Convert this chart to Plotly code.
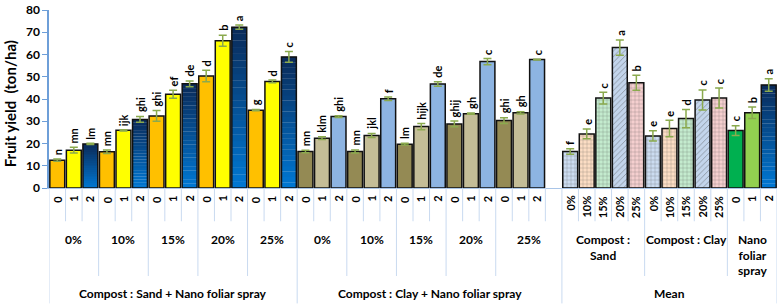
import plotly.graph_objects as go

# ---------------- data ----------------
spray_levels = ["0", "1", "2"]
compost_levels = ["0%", "10%", "15%", "20%", "25%"]

sand_yield = [12.5, 17.0, 19.8, 16.3, 25.9, 30.8, 32.4, 42.1, 46.8, 50.3, 66.2, 72.3, 35.0, 47.9, 58.9]
sand_err = [0.5, 1.3, 0.3, 0.8, 0.3, 1.3, 2.4, 1.8, 1.3, 2.6, 2.5, 1.0, 0.3, 0.6, 2.4]
sand_letters = ["n", "mn", "lm", "mn", "ijk", "ghi", "ghi", "ef", "de", "d", "b", "a", "g", "d", "c"]

clay_yield = [16.4, 22.4, 32.1, 16.4, 23.6, 40.1, 19.7, 27.6, 46.7, 28.8, 33.4, 56.8, 30.3, 33.8, 57.7]
clay_err = [0.6, 0.6, 0.4, 0.7, 0.9, 0.8, 0.4, 1.4, 1.0, 1.3, 0.3, 1.4, 1.3, 0.5, 0.2]
clay_letters = ["mn", "klm", "ghi", "mn", "jkl", "f", "lm", "hijk", "de", "ghij", "gh", "c", "ghi", "gh", "c"]

mean_sand = [16.4, 24.3, 40.4, 63.1, 47.3]
mean_sand_err = [1.2, 2.2, 2.6, 3.4, 3.4]
mean_sand_letters = ["f", "e", "c", "a", "b"]

mean_clay = [23.4, 26.7, 31.2, 39.6, 40.4]
mean_clay_err = [2.3, 3.7, 4.1, 4.5, 4.5]
mean_clay_letters = ["e", "e", "d", "c", "c"]

mean_nano = [25.8, 33.8, 46.3]
mean_nano_err = [2.2, 2.6, 2.8]
mean_nano_letters = ["c", "b", "a"]

y_ticks = [0, 10, 20, 30, 40, 50, 60, 70, 80]

G_SAND = "Compost : Sand + Nano foliar spray"
G_CLAY = "Compost : Clay + Nano foliar spray"
G_MEAN = "Mean"

# ---------------- categories (3 levels) ----------------
cats = []  # (level3, level2, level1)
for c in compost_levels:
    for s in spray_levels:
        cats.append((G_SAND, c, s))
for c in compost_levels:
    for s in spray_levels:
        cats.append((G_CLAY, c, s))
cats.append((G_CLAY, "25%", ""))  # empty spacer slot
for c in compost_levels:
    cats.append((G_MEAN, "Compost :<br>Sand", c))
for c in compost_levels:
    cats.append((G_MEAN, "Compost : Clay", c))
for s in spray_levels:
    cats.append((G_MEAN, "Nano<br>foliar<br>spray", s))

values = sand_yield + clay_yield + [None] + mean_sand + mean_clay + mean_nano
errors = sand_err + clay_err + [None] + mean_sand_err + mean_clay_err + mean_nano_err
letters = sand_letters + clay_letters + [""] + mean_sand_letters + mean_clay_letters + mean_nano_letters

# ---------------- styles ----------------
GRAD = "grad"
sand_cols = ["#FFC000", "#FFFF00", GRAD]
clay_cols = ["#948A54", "#C4BD97", "#8DB4E2"]
mean_bg = ["#CCDCF1", "#FCDDC4", "#C4EBCE", "#C3D5EC", "#F5CFCF"]
mean_fg = ["#A4BFE3", "#F5BF98", "#52BE74", "#ABC2E2", "#E9A3A3"]
mean_shape = ["+", "+", "+", "/", "+"]
nano_cols = ["#00B050", "#92D050", GRAD]
GRAD_BOTTOM = (0, 120, 212)
GRAD_TOP = (10, 42, 88)
N_GRAD = 24

xs, ys, es, colors, fgs, shapes = [], [], [], [], [], []
gx, gy = [], []
for i, (l3, l2, l1) in enumerate(cats):
    v = values[i]
    if v is None:
        continue
    xs.append(i)
    ys.append(v)
    es.append(errors[i])
    if l3 == G_SAND:
        col = sand_cols[spray_levels.index(l1)]; fg = "#000"; sh = ""
    elif l3 == G_CLAY:
        col = clay_cols[spray_levels.index(l1)]; fg = "#000"; sh = ""
    elif l2.startswith("Nano"):
        col = nano_cols[spray_levels.index(l1)]; fg = "#000"; sh = ""
    else:
        k = compost_levels.index(l1)
        col = mean_bg[k]; fg = mean_fg[k]; sh = mean_shape[k]
    if col == GRAD:
        gx.append(i); gy.append(v)
        col = "rgba(0,0,0,0)"
    colors.append(col); fgs.append(fg); shapes.append(sh)

FONT = "Lato"
fig = go.Figure()

# vertical gradient fill for the dark-blue bars (drawn underneath the outlined bars)
for k in range(N_GRAD):
    t = (k + 0.5) / N_GRAD
    rgb = tuple(round(GRAD_BOTTOM[j] + (GRAD_TOP[j] - GRAD_BOTTOM[j]) * t) for j in range(3))
    fig.add_trace(go.Bar(
        x=gx, y=[v / N_GRAD * 1.03 for v in gy], base=[v * k / N_GRAD for v in gy], width=0.9,
        marker=dict(color="rgb(%d,%d,%d)" % rgb, line=dict(width=0)), hoverinfo="skip",
    ))

fig.add_trace(go.Bar(
    x=xs, y=ys, width=0.9,
    marker=dict(color=colors, line=dict(color="#111111", width=1.5),
                pattern=dict(shape=shapes, fgcolor=fgs, size=4, solidity=0.2, fillmode="overlay")),
    error_y=dict(type="data", array=es, visible=True, color="#8BAA4E", thickness=1.5, width=4),
    hoverinfo="skip",
))

annotations = []
# significance letters
for i, (v, e) in enumerate(zip(values, errors)):
    if v is None:
        continue
    annotations.append(dict(x=i, y=v + e, xref="x", yref="y", text=letters[i], textangle=-90,
                            showarrow=False, xanchor="center", yanchor="bottom", yshift=2,
                            font=dict(family=FONT, size=11, color="black", weight="bold")))

PLOT_H = 182.0
def py(px_below):
    return -px_below / PLOT_H

n = len(cats)

# level-1 labels (rotated)
for i, c in enumerate(cats):
    if c[2] == "":
        continue
    annotations.append(dict(x=i, y=py(6), xref="x", yref="paper", text=c[2], textangle=-90,
                            showarrow=False, xanchor="center", yanchor="top",
                            font=dict(family=FONT, size=11, color="black", weight="bold")))

# separators
shapes_list = []
SEP = "#C9DAF0"
for b in range(n + 1):
    if b == 0 or b == n or cats[b][0] != cats[b - 1][0]:
        depth = 118
    elif cats[b][1] != cats[b - 1][1]:
        depth = 90
    else:
        depth = 34
    shapes_list.append(dict(type="line", xref="x", yref="paper", x0=b - 0.5, x1=b - 0.5,
                            y0=0, y1=py(depth), line=dict(color=SEP, width=1)))

def runs(keyfunc):
    out = []
    start = 0
    for i in range(1, n + 1):
        if i == n or keyfunc(cats[i]) != keyfunc(cats[start]):
            out.append((start, i - 1, cats[start]))
            start = i
    return out

for s, e, c in runs(lambda t: (t[0], t[1])):
    annotations.append(dict(x=(s + e) / 2, y=py(43), xref="x", yref="paper", text=c[1],
                            showarrow=False, xanchor="center", yanchor="top",
                            font=dict(family=FONT, size=12, color="black", weight="bold")))
for s, e, c in runs(lambda t: t[0]):
    annotations.append(dict(x=(s + e) / 2, y=py(108), xref="x", yref="paper", text=c[0],
                            showarrow=False, xanchor="center", yanchor="middle",
                            font=dict(family=FONT, size=12, color="black", weight="bold")))

# y title
annotations.append(dict(x=0, y=0.47, xref="paper", yref="paper", text="Fruit yield  (ton/ha)",
                        textangle=-90, showarrow=False, xanchor="center", yanchor="middle", xshift=-39,
                        font=dict(family=FONT, size=15, color="black", weight="bold")))

fig.update_layout(
    width=779, height=306,
    margin=dict(l=49, r=2, t=6, b=118),
    paper_bgcolor="white", plot_bgcolor="white",
    showlegend=False, barmode="overlay",
    annotations=annotations,
    shapes=shapes_list,
    xaxis=dict(range=[-0.5, n - 0.5], showticklabels=False,
               showgrid=False, zeroline=False, showline=True, linecolor="#A9C5E8", linewidth=1,
               ticks=""),
    yaxis=dict(range=[0, 80], tickvals=y_ticks, showgrid=False, zeroline=False, showline=True,
               linecolor="#6E9FD8", linewidth=1.5, ticks="outside", ticklen=5, tickcolor="#6E9FD8",
               ticklabeloverflow="allow",
               tickfont=dict(family=FONT, size=12, color="black", weight="bold")),
)

fig.write_html("out.html")
